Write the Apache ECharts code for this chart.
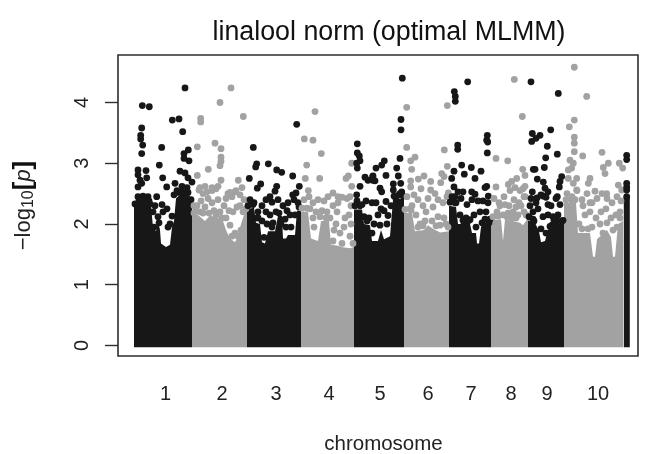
<!DOCTYPE html>
<html><head><meta charset="utf-8"><style>html,body{margin:0;padding:0;background:#fff}#c{width:646px;height:454px}</style>
<script src="https://cdn.jsdelivr.net/npm/echarts@6/dist/echarts.min.js"></script></head>
<body><div id="c"></div>
<script>
const chromosomeLabels = ['1','2','3','4','5','6','7','8','9','10'];
const chromosomeCenters = [165.5,222,276,329,380,428,471,511,547,598];
const yTicks = [0,1,2,3,4];

// Solid lower mass of each chromosome: [position, top of the mass in -log10(p)]
const massChr1 = [[134,2.28],[137,2.34],[146,2.36],[151,2.3],[153,1.95],[156,1.88],[158,2.05],[160,1.9],[161,1.68],[166,1.62],[170,1.66],[172,1.95],[174,2.05],[176,2.42],[181,2.5],[189,2.5],[192,2.3]];
const massChr2 = [[192,2.14],[198,2.15],[205,2.05],[210,2.14],[218,2.1],[223,2.05],[226,1.9],[230,1.76],[235,1.7],[238,1.8],[241,2.0],[244,2.15],[247,2.2]];
const massChr3 = [[247,2.24],[254,2.27],[256,2.02],[260,2.0],[262,1.7],[265,1.68],[268,1.88],[275,1.88],[278,2.13],[282,2.13],[283,1.76],[286,1.76],[288,1.82],[295,1.82],[297,2.22],[301,2.22]];
const massChr4 = [[301,2.2],[308,2.2],[311,1.76],[318,1.72],[321,2.05],[329,2.05],[331,1.66],[338,1.64],[341,1.62],[350,1.6],[354,1.62]];
const massChr5 = [[354,2.24],[362,2.24],[364,2.0],[370,1.98],[372,1.72],[378,1.72],[381,1.9],[384,1.75],[390,1.8],[393,2.4],[404,2.42]];
const massChr6 = [[404,2.18],[412,2.18],[415,1.88],[424,1.9],[428,1.98],[433,1.92],[440,1.86],[449,1.88]];
const massChr7 = [[449,2.3],[456,2.28],[458,2.0],[470,2.0],[472,1.85],[476,1.85],[477,1.68],[479,1.68],[481,1.95],[484,2.02],[491,2.02]];
const massChr8 = [[491,2.06],[501,2.08],[503,1.72],[505,2.08],[520,2.02],[523,1.98],[528,2.1]];
const massChr9 = [[528,2.06],[535,2.02],[539,1.88],[541,1.7],[545,1.72],[548,1.9],[556,2.02],[564,2.0]];
const massChr10 = [[564,2.35],[576,2.35],[578,1.85],[590,1.85],[593,1.46],[595,1.46],[597,1.75],[607,1.9],[611,1.78],[613,1.46],[615,1.46],[618,2.0],[623,2.05]];
const massChr11 = [[623.8,2.45],[629.8,2.45]];

// Individually visible markers: [position, -log10(p)]
const markersChr1 = [[185,4.24],[142.3,3.95],[149.3,3.93],[172.3,3.71],[179,3.73],[182.7,3.52],[141.7,3.58],[140.7,3.46],[140.7,3.40],[142.7,3.30],[141.7,3.16],[161.7,3.26],[159.3,2.97],[188.3,3.22],[184,3.16],[184,3.08],[189,3.04],[180,2.87],[185,2.84],[188,2.76],[192,2.69],[138,2.89],[146,2.88],[138,2.81],[146.7,2.76],[140,2.72],[138,2.61],[141.7,2.67],[162.7,2.76],[166.7,2.61],[175,2.67],[143,2.46],[138,2.45],[148,2.45],[156.7,2.45],[182,2.62],[187,2.6],[178,2.52],[150,2.33],[155,2.30],[162,2.32],[163,2.2],[158,2.12],[167,2.25],[172,2.13],[170,2.0],[168,1.95],[174,2.48],[159,2.02],[154,1.95],[135,2.33],[139,2.38],[144,2.4],[149,2.38],[153,2.2],[177,2.55],[182,2.53],[188,2.52],[191,2.4]];
const markersChr2 = [[231,4.24],[220,4.0],[243.3,3.77],[200.7,3.74],[200.7,3.68],[215,3.33],[221,3.24],[197.3,3.27],[221,3.10],[221,3.03],[220,2.96],[208.3,2.9],[197.3,2.8],[221,2.72],[238.3,2.72],[200,2.6],[205,2.62],[212,2.6],[218,2.62],[230,2.52],[235,2.53],[242,2.6],[199,2.56],[203,2.5],[207,2.53],[212,2.55],[216,2.58],[197,2.3],[205,2.28],[212,2.35],[218,2.4],[224,2.3],[228,2.5],[232,2.45],[236,2.55],[240,2.48],[244,2.4],[233,2.2],[237,2.28],[226,2.1],[230,1.98],[235,1.85],[238,1.8],[241,1.9],[220,2.2],[243,2.2],[200,2.2],[209,2.18],[194,2.3],[194,2.18],[201,2.38],[208,2.42],[214,2.22],[226,2.42],[229,2.22],[240,2.3],[195,2.2],[203,2.18],[216,2.15],[222,2.1],[232,1.8],[246,2.25]];
const markersChr3 = [[253.3,3.26],[256.7,2.99],[255.7,2.94],[268.3,2.99],[276.7,2.89],[281.7,2.85],[292.7,2.79],[249.3,2.75],[296.7,3.64],[260.7,2.66],[257.3,2.59],[276.7,2.62],[275,2.54],[270,2.45],[299.3,2.62],[296,2.51],[292.7,2.48],[250,2.4],[254,2.35],[258,2.2],[262,2.3],[266,2.4],[272,2.36],[278,2.4],[283,2.3],[288,2.35],[294,2.4],[298,2.35],[270,2.15],[276,2.2],[267,2.0],[262,2.05],[273,2.02],[285,2.08],[290,2.15],[295,2.15],[281,2.0],[291,1.95],[258,2.1],[252,2.35],[266,2.2],[287,2.22],[272,1.95],[286,1.95],[248,2.3],[253,2.32],[257,2.1],[279,2.18],[299,2.28],[264,1.78]];
const markersChr4 = [[315,3.85],[304.3,3.40],[313,3.38],[321.3,3.16],[306.7,2.97],[305.3,2.75],[319.7,2.75],[348.3,2.79],[346,2.75],[351.7,3.0],[351.7,2.62],[308.3,2.55],[333,2.51],[328,2.45],[338,2.45],[350,2.45],[304,2.4],[309,2.45],[313,2.35],[318,2.4],[324,2.38],[333,2.3],[338,2.35],[342,2.44],[347,2.42],[351,2.3],[310,2.25],[316,2.2],[322,2.22],[330,2.1],[336,2.0],[345,2.1],[349,2.15],[314,1.95],[340,1.85],[334,1.9],[350,1.8],[327,2.2],[344,1.95],[337,2.2],[313,2.1],[351,2.0],[302,2.26],[307,2.26],[320,2.12],[326,2.1],[333,1.72],[342,1.68],[353,1.68]];
const markersChr5 = [[357.3,3.32],[357.3,3.17],[359.3,3.12],[360,3.04],[356.7,3.0],[357.3,2.92],[376,2.92],[365,2.77],[368,2.72],[373,2.79],[375,2.71],[360,2.62],[356.7,2.48],[402.3,4.40],[401,3.72],[401,3.55],[400,3.08],[396.7,2.92],[384.3,3.04],[381.7,2.97],[386,2.8],[398.3,2.79],[372.7,2.78],[372.7,2.72],[400.7,2.67],[393.3,2.66],[393.3,2.56],[380,2.59],[381.7,2.53],[401.7,2.53],[357,2.38],[362,2.32],[366,2.38],[372,2.35],[376,2.35],[381,2.25],[386,2.37],[391,2.3],[396,2.42],[400,2.5],[364,2.12],[369,2.1],[374,2.0],[378,2.15],[384,2.22],[388,2.14],[387,2.0],[372,1.85],[380,1.98],[355,2.3],[360,2.3],[367,2.05],[394,2.46],[399,2.48],[403,2.46]];
const markersChr6 = [[406.7,3.92],[406.7,3.26],[415,3.10],[410.7,3.04],[411.7,2.90],[410.7,2.71],[410.7,2.61],[418.3,2.74],[424,2.79],[447.3,3.95],[444.3,3.22],[447.3,2.95],[441.7,2.83],[444,2.78],[440.7,2.68],[430.7,2.70],[430.7,2.56],[448.3,2.51],[407,2.45],[412,2.3],[418,2.4],[423,2.3],[428,2.42],[433,2.28],[438,2.4],[443,2.35],[447,2.45],[410,2.25],[416,2.15],[425,2.05],[432,2.05],[438,2.12],[444,2.1],[420,2.0],[440,1.98],[446,2.0],[414,2.48],[435,2.5],[426,2.2],[421,2.58],[405,2.24],[411,2.23],[418,1.95],[423,1.97],[436,1.97],[448,1.95]];
const markersChr7 = [[467.7,4.34],[454.3,4.18],[455.3,4.10],[455.3,4.02],[457.7,3.30],[457.7,3.23],[487.3,3.46],[486.7,3.38],[487.7,3.35],[487.3,3.17],[461.7,2.97],[471.3,2.93],[454,2.87],[481,2.87],[464.3,2.82],[451.7,2.75],[475,2.75],[486.7,2.62],[485,2.6],[454,2.61],[458,2.53],[463,2.53],[471.7,2.53],[475,2.49],[455,2.45],[488.3,2.46],[452,2.45],[456,2.35],[461,2.42],[467,2.32],[472,2.4],[478,2.38],[483,2.38],[488,2.35],[460,2.15],[466,2.1],[470,2.07],[474,2.15],[480,2.2],[486,2.2],[464,2.0],[476,1.95],[482,2.02],[489,2.02],[450,2.36],[455,2.35],[463,2.06],[468,2.05],[485,2.08],[490,2.08]];
const markersChr8 = [[514.3,4.38],[522.3,3.77],[496,3.08],[507.7,3.04],[522.7,2.90],[525,2.8],[516.7,2.75],[511.7,2.70],[508.3,2.65],[496,2.61],[523,2.58],[525,2.45],[494,2.42],[499,2.35],[504,2.45],[509,2.3],[514,2.4],[519,2.35],[524,2.45],[497,2.2],[503,2.15],[508,2.18],[513,2.2],[518,2.15],[524,2.2],[500,2.3],[520,2.55],[515,2.6],[525,2.62],[510,2.55],[505,2.32],[516,2.28],[521,2.3],[493,2.12],[498,2.13],[507,2.12],[512,2.1],[516,2.1],[526,2.15]];
const markersChr9 = [[531,4.34],[558.3,4.15],[550.7,3.55],[532.3,3.49],[540,3.46],[536,3.41],[531.7,3.36],[547.3,3.28],[557.3,3.15],[545.7,3.09],[533.3,2.90],[535,2.9],[544.3,2.93],[561.7,2.78],[560,2.70],[537.3,2.74],[543.3,2.69],[559.3,2.61],[545,2.59],[548,2.53],[532.3,2.53],[537,2.43],[543,2.46],[557.3,2.45],[531,2.42],[536,2.35],[541,2.48],[546,2.44],[551,2.3],[556,2.42],[560,2.32],[533,2.2],[538,2.25],[543,2.12],[548,2.15],[553,2.12],[558,2.15],[562,2.05],[534,2.05],[541,1.92],[546,1.85],[552,1.98],[557,2.05],[530,2.3],[548,2.32],[529,2.12],[533,2.08],[550,1.96],[554,2.06],[563,2.06]];
const markersChr10 = [[574.3,4.58],[586.7,4.10],[574.3,3.71],[569.3,3.60],[574.3,3.43],[574.3,3.33],[574.3,3.19],[582.7,3.12],[602,3.18],[570,3.05],[573.3,3.0],[571.7,2.92],[568.3,2.89],[608.3,3.0],[603.3,2.93],[605,2.83],[619.3,3.0],[622.7,2.92],[590,2.75],[588.3,2.67],[568.3,2.75],[576.7,2.75],[573.3,2.67],[576.7,2.56],[595,2.54],[606.7,2.50],[618.3,2.64],[621.7,2.56],[567,2.5],[572,2.45],[577,2.55],[582,2.4],[587,2.5],[592,2.35],[597,2.42],[602,2.5],[607,2.42],[612,2.35],[617,2.45],[621,2.38],[585,2.15],[590,2.2],[596,2.1],[601,2.2],[606,2.25],[611,2.1],[616,2.15],[620,2.2],[600,2.0],[592,1.95],[607,2.02],[613,1.9],[617,1.95],[579,2.0],[583,2.3],[590,2.35],[566,2.4],[571,2.4],[575,2.4],[582,1.92],[588,1.92],[603,1.85],[620,2.1]];
const markersChr11 = [[626.7,3.13],[626.7,3.06],[626.7,2.67],[626.7,2.61],[626.7,2.56],[626.7,2.45]];

const DARK = '#171717', LIGHT = '#a2a2a2', AXIS = '#2e2e2e';
const massFloor = -0.03;
const groups = [
  [massChr1, markersChr1, DARK],[massChr2, markersChr2, LIGHT],[massChr3, markersChr3, DARK],
  [massChr4, markersChr4, LIGHT],[massChr5, markersChr5, DARK],[massChr6, markersChr6, LIGHT],
  [massChr7, markersChr7, DARK],[massChr8, markersChr8, LIGHT],[massChr9, markersChr9, DARK],
  [massChr10, markersChr10, LIGHT],[massChr11, markersChr11, DARK]
];
const series = [];
groups.forEach(([mass, markers, color]) => {
  series.push({
    type: 'custom', silent: true, animation: false, z: 2,
    data: mass, encode: {x: 0, y: 1}, clip: true,
    renderItem(params, api) {
      if (params.dataIndex !== 0) return null;
      const first = mass[0], last = mass[mass.length - 1];
      const pts = [api.coord([first[0], massFloor])]
        .concat(mass.map(d => api.coord(d)))
        .concat([api.coord([last[0], massFloor])]);
      return {type: 'polygon', shape: {points: pts}, style: {fill: color}};
    }
  });
  series.push({
    type: 'scatter', silent: true, animation: false, z: 3, large: false,
    data: markers, symbolSize: 6.8, itemStyle: {color, opacity: 1}
  });
});

const chart = echarts.init(document.getElementById('c'), null, {renderer: 'canvas'});
chart.setOption({
  animation: false,
  backgroundColor: '#ffffff',
  textStyle: {fontFamily: '"Liberation Sans", Arial, sans-serif'},
  title: {
    text: 'linalool norm (optimal MLMM)', left: 384, top: 14, textAlign: 'center',
    textStyle: {fontSize: 26.8, fontWeight: 'normal', color: '#111', fontFamily: '"Liberation Sans", Arial, sans-serif'}
  },
  grid: {left: 118, top: 55, width: 520, height: 301, show: true, borderColor: AXIS, borderWidth: 1.6, backgroundColor: 'transparent', outerBoundsMode: 'none', containLabel: false},
  xAxis: {
    type: 'value', min: 118, max: 638, name: 'chromosome', nameLocation: 'middle', nameGap: 78,
    nameTextStyle: {fontSize: 20.5, color: '#222', padding: [0, 0, 0, 11]},
    splitLine: {show: false}, axisLine: {show: false}, axisTick: {show: false},
    axisLabel: {
      margin: 28, fontSize: 20, color: '#222', showMinLabel: true, showMaxLabel: true,
      customValues: chromosomeCenters,
      formatter: v => chromosomeLabels[chromosomeCenters.indexOf(v)]
    }
  },
  yAxis: {
    type: 'value', min: -0.173, max: 4.782,
    name: '{t|−log}{s|10}{b|[}{i|p}{b|]}', nameLocation: 'middle', nameGap: 81, nameRotate: 90,
    nameTextStyle: {rich: {
      t: {fontSize: 22, color: '#222'},
      s: {fontSize: 16, color: '#222', verticalAlign: 'bottom', padding: [8, 0, 0, 0]},
      b: {fontSize: 26, color: '#111', fontWeight: 'bold'},
      i: {fontSize: 22, color: '#222', fontStyle: 'italic'}
    }},
    splitLine: {show: false}, axisLine: {show: false},
    axisTick: {show: true, length: 13, customValues: yTicks, lineStyle: {color: AXIS, width: 1.4}},
    axisLabel: {margin: 26, rotate: 90, fontSize: 20, color: '#222', customValues: yTicks, formatter: v => String(v)}
  },
  series
});
</script></body></html>
